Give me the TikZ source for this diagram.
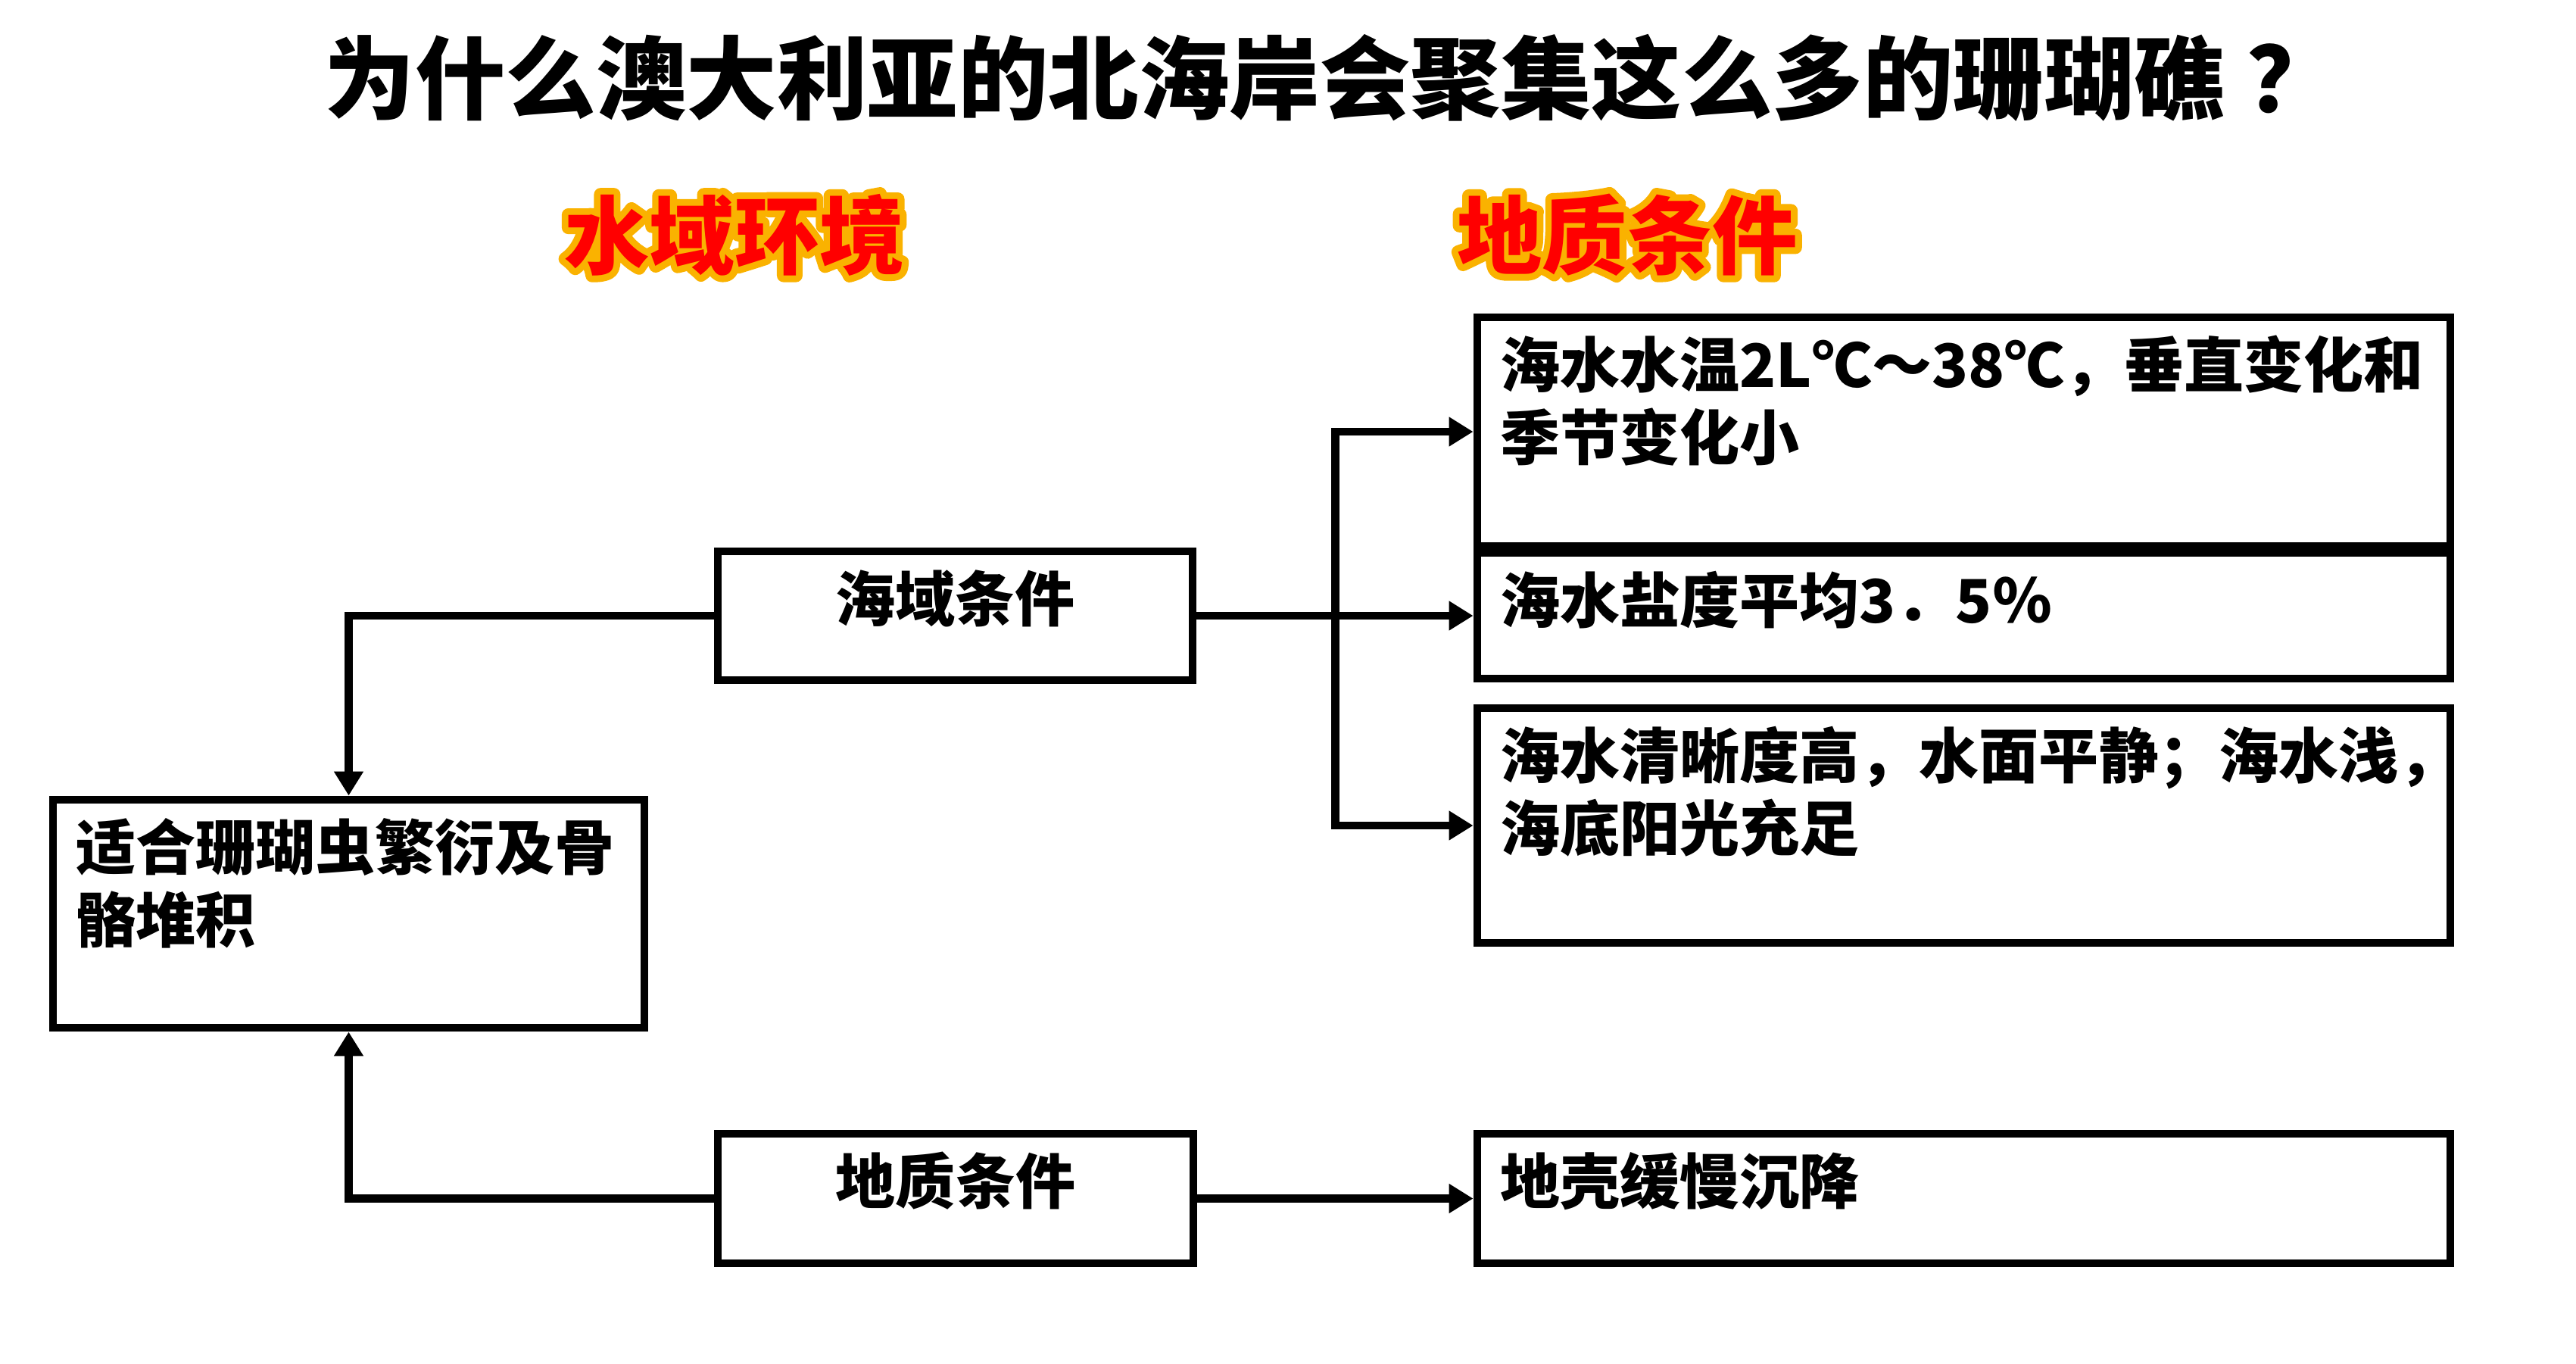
\documentclass[tikz,border=0pt]{standalone}
\usepackage{fontspec}
\setmainfont{Noto Sans CJK SC}
\usepackage{tikz}
\usetikzlibrary{arrows.meta, positioning}
\definecolor{hdRed}{RGB}{255,0,0}
\definecolor{hdGlow}{RGB}{250,178,0}
\newcommand{\glowon}{\special{pdf:literal direct 2 Tr 5 w 1 j}}
\newcommand{\glowoff}{\special{pdf:literal direct 0 Tr}}

\begin{document}
\begin{tikzpicture}[
  box/.style={draw, line width=3.1pt, fill=white, inner sep=0pt},
  txt/.style={font=\bfseries\fontsize{22.5}{27.3}\selectfont, inner sep=0pt, align=left, text width=12.6cm},
  ctxt/.style={font=\bfseries\fontsize{22.5}{27.3}\selectfont, inner sep=0pt},
  head/.style={font=\bfseries\fontsize{32}{36}\selectfont, text=hdRed},
  glow/.style={font=\bfseries\fontsize{32}{36}\selectfont, text=hdGlow},
  link/.style={line width=3.1pt},
  arr/.style={link, -{Triangle[length=0.32cm, width=0.37cm]}}
]
\path[use as bounding box, fill=white] (0,0) rectangle (34.02,-18.00);

% title and headings
\node[font=\bfseries\fontsize{34}{40}\selectfont] (ttl) at (17.58,-1.03) {为什么澳大利亚的北海岸会聚集这么多的珊瑚礁\hspace{0.25em}？};
\node[glow] (hwg) at (9.70,-3.10) {\glowon 水域环境\glowoff};
\node[glow] (hgg) at (21.49,-3.10) {\glowon 地质条件\glowoff};
\node[head] (hwt) at (hwg) {水域环境};
\node[head] (hgt) at (hgg) {地质条件};

% boxes
\node[box, minimum width=12.85cm, minimum height=3.02cm] (wA) at (25.935,-5.70) {};
\node[box, minimum width=12.85cm, minimum height=1.66cm] (wB) at (25.935,-8.13) {};
\node[box, minimum width=12.85cm, minimum height=3.10cm] (wC) at (25.935,-10.90) {};
\node[box, minimum width=12.85cm, minimum height=1.71cm] (wD) at (25.935,-15.825) {};
\node[box, minimum width=6.27cm, minimum height=1.70cm] (sea) at (12.615,-8.13) {};
\node[box, minimum width=6.28cm, minimum height=1.71cm] (geo) at (12.62,-15.825) {};
\node[box, minimum width=7.81cm, minimum height=3.01cm] (res) at (4.605,-12.065) {};

\node[txt, anchor=base west] (tA) at ([xshift=0.35cm, yshift=-0.98cm]wA.north west) {海水水温2L℃～38℃，垂直变化和\\季节变化小};
\node[txt, anchor=base west] (tB) at ([xshift=0.35cm, yshift=-0.98cm]wB.north west) {海水盐度平均3．5％};
\node[txt, anchor=base west] (tC) at ([xshift=0.35cm, yshift=-0.98cm]wC.north west) {海水清晰度高，水面平静；海水浅，\\海底阳光充足};
\node[txt, anchor=base west] (tD) at ([xshift=0.35cm, yshift=-0.98cm]wD.north west) {地壳缓慢沉降};
\node[ctxt, anchor=base] (tsea) at ([yshift=-0.98cm]sea.north) {海域条件};
\node[ctxt, anchor=base] (tgeo) at ([yshift=-0.98cm]geo.north) {地质条件};
\node[txt, anchor=base west, text width=7.4cm] (tres) at ([xshift=0.35cm, yshift=-0.98cm]res.north west) {适合珊瑚虫繁衍及骨\\骼堆积};

% connectors
\coordinate (bus) at ([xshift=1.83cm]sea.east);
\draw[arr] (sea.west) -| (res.north);
\draw[arr] (geo.west) -| (res.south);
\draw[arr] (sea.east) -- (wB.west);
\draw[arr] (bus) |- (wA.west);
\draw[arr] (bus) |- (wC.west);
\draw[arr] (geo.east) -- (wD.west);
\end{tikzpicture}
\end{document}
